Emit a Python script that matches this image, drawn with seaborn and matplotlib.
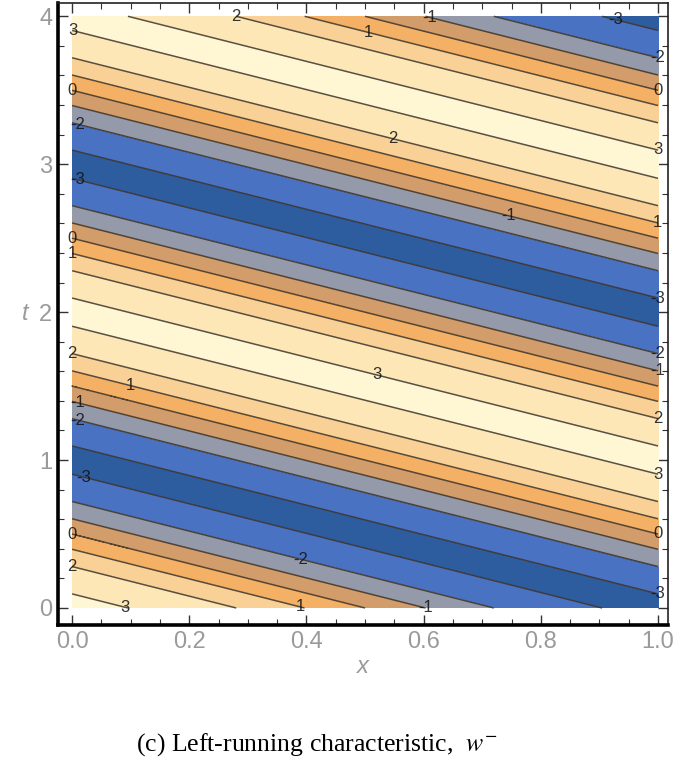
import numpy as np
import matplotlib
matplotlib.use("Agg")
import matplotlib.pyplot as plt
import seaborn as sns

# -----------------------------
# Data
# -----------------------------
# w- is constant along x + t (left-running wave)
AMPLITUDE = 3.14     # slightly above the +-3 contours
SPEED = 1.0          # t shift of a contour from x=0 to x=1
PERIOD = 2.0         # distance in t between two minima at fixed x
MIN_AT = 1.0         # t of the minimum at x = 0

x_vals = np.linspace(0.0, 1.0, 301)
t_vals = np.linspace(0.0, 4.0, 601)

line_levels = [-3, -2, -1, 0, 1, 2, 3]
fill_levels = [-4, -3, -2, -1, 0, 1, 2, 3, 4]

# colours of the bands, low -> high (Mathematica default scheme)
band_colors = ["#2e5d9f", "#4a72c3", "#959aab", "#d29d6b",
               "#f4b064", "#f9d196", "#fde7b6", "#fff6d4"]

# where the contour labels sit (x, t)
label_spots = [
    (0.28, 4.0), (0.505, 3.89), (0.61, 4.0), (0.93, 4.0),
    (1.0, 3.72), (1.0, 3.51), (1.0, 3.11), (1.0, 2.62), (1.0, 2.10),
    (1.0, 1.73), (1.0, 1.61), (1.0, 1.29), (1.0, 0.92), (1.0, 0.51), (1.0, 0.10),
    (0.0, 3.89), (0.0, 3.51), (0.01, 3.28), (0.01, 2.90), (0.0, 2.51), (0.0, 2.39),
    (0.0, 1.72), (0.10, 1.52), (0.01, 1.39), (0.01, 1.28), (0.02, 0.885),
    (0.0, 0.51), (0.0, 0.28), (0.09, 0.0), (0.39, 0.34), (0.39, 0.02),
    (0.548, 3.18), (0.747, 2.67), (0.52, 1.58), (0.61, 0.0),
]

X, T = np.meshgrid(x_vals, t_vals)
W = -AMPLITUDE * np.cos(2 * np.pi * (T + SPEED * X - MIN_AT) / PERIOD)

# -----------------------------
# Plot
# -----------------------------
sns.set_theme(style="ticks")
plt.rcParams["font.family"] = ["Liberation Sans", "DejaVu Sans"]
plt.rcParams["axes.unicode_minus"] = False
plt.rcParams["mathtext.fontset"] = "stix"

fig = plt.figure(figsize=(6.85, 7.69), dpi=100)
ax = fig.add_axes([58 / 685, 1 - 625 / 769, 610 / 685, 622 / 769])

palette = sns.color_palette(band_colors)
ax.contourf(X, T, W, levels=fill_levels, colors=palette)
cs = ax.contour(X, T, W, levels=line_levels, colors="#3b3328",
                linewidths=1.1, alpha=0.85, linestyles="solid")
labels = ax.clabel(cs, manual=label_spots, inline=False, fmt="%g",
                   fontsize=12, colors="#111111")
for lab in labels:
    lab.set_rotation(0)

ax.set_xlim(-0.024, 1.017)
ax.set_ylim(-0.115, 4.09)

ax.set_xticks([0.0, 0.2, 0.4, 0.6, 0.8, 1.0])
ax.set_xticklabels(["0.0", "0.2", "0.4", "0.6", "0.8", "1.0"])
ax.set_yticks([0, 1, 2, 3, 4])
ax.set_xticks(np.arange(0, 1.001, 0.05), minor=True)
ax.set_yticks(np.arange(0, 4.001, 0.2), minor=True)
ax.tick_params(which="both", direction="in", top=True, right=True,
               color="#333333", labelcolor="#9a9a9a", labelsize=17)
ax.tick_params(which="major", length=7, width=1.0, pad=4)
ax.tick_params(which="minor", length=4, width=0.8)

for side in ["left", "bottom"]:
    ax.spines[side].set_linewidth(2.6)
    ax.spines[side].set_color("black")
for side in ["top", "right"]:
    ax.spines[side].set_linewidth(1.2)
    ax.spines[side].set_color("#222222")

ax.set_xlabel("x", fontsize=17, color="#9a9a9a", style="italic", labelpad=2)
ax.set_ylabel("t", fontsize=17, color="#9a9a9a", style="italic",
              rotation=0, labelpad=10, va="center")

fig.text(0.462, 1 - 745 / 769, "(c) Left-running characteristic,  $w^{-}$",
         ha="center", va="center", fontsize=18.5, color="black",
         family="Liberation Serif")

fig.savefig("out.png", dpi=100)
plt.close(fig)
